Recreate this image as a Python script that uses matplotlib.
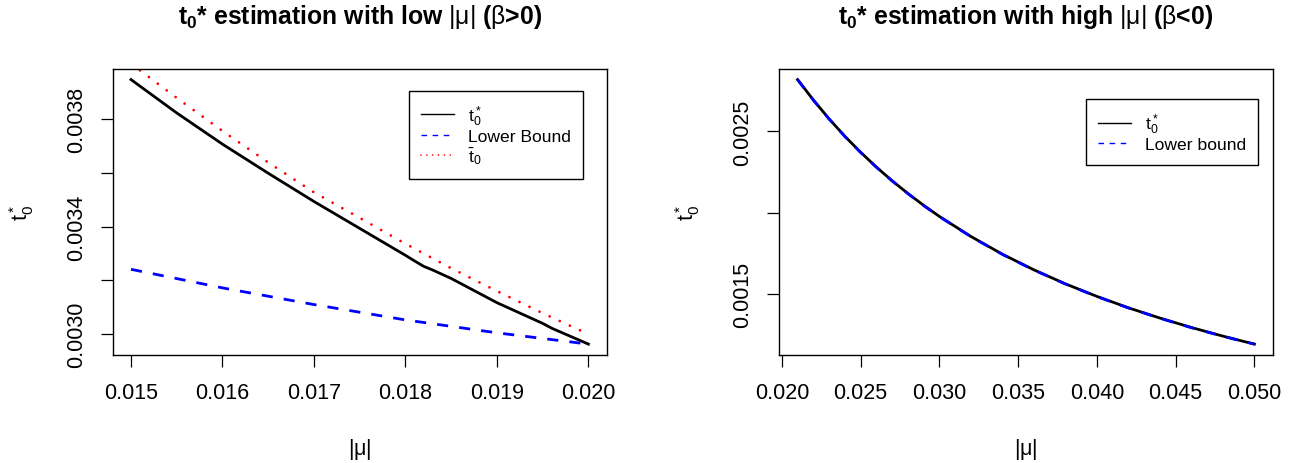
import numpy as np
import matplotlib
matplotlib.use("Agg")
import matplotlib.pyplot as plt
from matplotlib.lines import Line2D

plt.rcParams["font.family"] = ["Liberation Sans", "DejaVu Sans"]
plt.rcParams["mathtext.fontset"] = "custom"
plt.rcParams["mathtext.rm"] = "Liberation Sans"
plt.rcParams["mathtext.it"] = "Liberation Sans:italic"
plt.rcParams["mathtext.bf"] = "Liberation Sans:bold"

# left panel: low |mu| (beta > 0)
mu_low = [0.0150, 0.0155, 0.0160, 0.0165, 0.0170, 0.0175, 0.0180, 0.0181,
          0.0182, 0.0183, 0.0185, 0.0190, 0.0195, 0.0196, 0.0200]
t0_low = [0.003946, 0.003822, 0.003706, 0.003598, 0.003493, 0.003393, 0.003293, 0.003272,
          0.003252, 0.003238, 0.003207, 0.003117, 0.003040, 0.003022, 0.002963]
lower_low_mu = [0.0150, 0.0160, 0.0170, 0.0180, 0.0190, 0.0200]
lower_low = [0.003241, 0.003172, 0.003110, 0.003053, 0.003005, 0.002963]
tbar_mu = [0.0150, 0.0155, 0.0160, 0.0165, 0.0170, 0.0175, 0.0180, 0.0185, 0.0190, 0.0195, 0.0200]
tbar_low = [0.004005, 0.003878, 0.003755, 0.003638, 0.003527, 0.003432, 0.003336, 0.003245,
            0.003160, 0.003078, 0.003000]

# right panel: high |mu| (beta < 0)
mu_high = [0.021, 0.022, 0.023, 0.024, 0.025, 0.026, 0.027, 0.028, 0.029, 0.030,
           0.032, 0.034, 0.036, 0.038, 0.040, 0.042, 0.044, 0.046, 0.048, 0.050]
t0_high = [0.002818, 0.002693, 0.002577, 0.002470, 0.002372, 0.002281, 0.002197, 0.002119,
           0.002046, 0.001978, 0.001855, 0.001746, 0.001650, 0.001564, 0.001487, 0.001417,
           0.001354, 0.001296, 0.001243, 0.001194]
lower_high = [0.002818, 0.002692, 0.002576, 0.002469, 0.002371, 0.002280, 0.002196, 0.002118,
              0.002045, 0.001977, 0.001854, 0.001745, 0.001649, 0.001563, 0.001486, 0.001416,
              0.001353, 0.001295, 0.001242, 0.001194]

xticks_low = [0.015, 0.016, 0.017, 0.018, 0.019, 0.020]
yticks_low = [0.0030, 0.0032, 0.0034, 0.0036, 0.0038]
ylabels_low = ["0.0030", "", "0.0034", "", "0.0038"]
xticks_high = [0.020, 0.025, 0.030, 0.035, 0.040, 0.045, 0.050]
yticks_high = [0.0015, 0.0020, 0.0025]
ylabels_high = ["0.0015", "", "0.0025"]

W, H = 1297, 464
fig = plt.figure(figsize=(W / 100, H / 100), dpi=100)
ax1 = fig.add_axes([112.7 / W, (H - 355.7) / H, 494.0 / W, 285.7 / H])
ax2 = fig.add_axes([779.3 / W, (H - 355.7) / H, 493.4 / W, 285.7 / H])

FS = 15.5
t0_lab = r"$\mathrm{t}_0^*$"


def r_range(vals):
    lo, hi = min(vals), max(vals)
    d = (hi - lo) * 0.04
    return lo - d, hi + d


def style(ax, xt, yt, ylab, title):
    ax.set_xticks(xt)
    ax.set_xticklabels(["%.3f" % v for v in xt])
    ax.set_yticks(yt)
    ax.set_yticklabels(ylab, rotation=90, va="center")
    ax.tick_params(axis="both", direction="out", length=8.6, width=0.9, labelsize=FS)
    ax.tick_params(axis="x", pad=11)
    ax.tick_params(axis="y", pad=10)
    for s in ax.spines.values():
        s.set_linewidth(1.0)
    ax.set_ylabel(t0_lab, fontsize=FS, va="center")
    ax.yaxis.set_label_coords(-0.185, 0.5)
    ax.set_xlabel(r"$|\mathrm{\mu}|$", fontsize=FS, va="center")
    ax.xaxis.set_label_coords(0.5, -0.327)
    ax.text(0.5, 1.186, title, transform=ax.transAxes, ha="center", va="center",
            fontsize=17.8, fontweight="bold")


def legend(ax, handles, labels, right, top):
    leg = ax.legend(handles, labels, loc="upper right",
                    bbox_to_anchor=(right / W, (H - top) / H), bbox_transform=fig.transFigure,
                    fontsize=12.6, fancybox=False, edgecolor="black", framealpha=1,
                    handlelength=1.85, handletextpad=0.8, labelspacing=0.06, borderpad=0.72,
                    borderaxespad=0)
    leg.get_frame().set_linewidth(1.0)


# left
ax1.plot(mu_low, t0_low, color="black", lw=2)
ax1.plot(lower_low_mu, lower_low, color="blue", lw=2, linestyle=(0, (4, 4)))
ax1.plot(tbar_mu, tbar_low, color="red", lw=2, linestyle=(0, (0.01, 4)), dash_capstyle="round")
ax1.set_xlim(r_range(mu_low))
ax1.set_ylim(r_range(t0_low + lower_low))
style(ax1, xticks_low, yticks_low, ylabels_low,
      r"$\mathbf{t}_\mathbf{0}$* estimation with low $|\mathrm{\mu}|$ ($\mathrm{\beta}$>0)")
h1 = [Line2D([], [], color="black", lw=1),
      Line2D([], [], color="blue", lw=1, linestyle=(0, (4, 4))),
      Line2D([], [], color="red", lw=1.2, linestyle=(0, (0.01, 3.5)), dash_capstyle="round")]
legend(ax1, h1, [t0_lab, "Lower Bound", r"$\bar{\mathrm{t}}_0$"], 583.3, 91.7)

# right
ax2.plot(mu_high, t0_high, color="black", lw=2)
ax2.plot(mu_high, lower_high, color="blue", lw=2, linestyle=(0, (4, 4)))
ax2.set_xlim(r_range(mu_high))
ax2.set_ylim(r_range(t0_high + lower_high))
style(ax2, xticks_high, yticks_high, ylabels_high,
      r"$\mathbf{t}_\mathbf{0}$* estimation with high $|\mathrm{\mu}|$ ($\mathrm{\beta}$<0)")
h2 = [Line2D([], [], color="black", lw=1),
      Line2D([], [], color="blue", lw=1, linestyle=(0, (4, 4)))]
legend(ax2, h2, [t0_lab, "Lower bound"], 1258.3, 100)

fig.savefig("out.png", dpi=100)
